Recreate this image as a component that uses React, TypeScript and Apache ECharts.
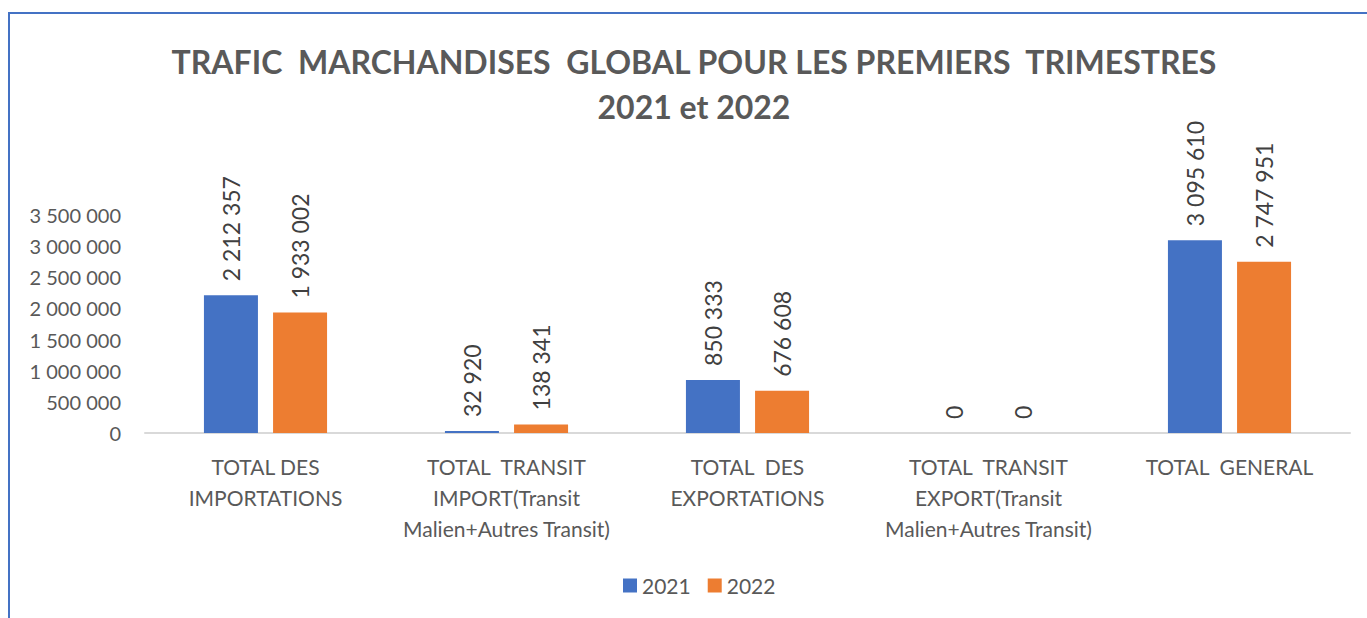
import React, { useEffect, useRef } from "react";
import * as echarts from "echarts";

const categories = [
  "TOTAL DES\nIMPORTATIONS",
  "TOTAL  TRANSIT\nIMPORT(Transit\nMalien+Autres Transit)",
  "TOTAL  DES\nEXPORTATIONS",
  "TOTAL  TRANSIT\nEXPORT(Transit\nMalien+Autres Transit)",
  "TOTAL  GENERAL",
];
const values2021 = [2212357, 32920, 850333, 0, 3095610];
const values2022 = [1933002, 138341, 676608, 0, 2747951];
const seriesNames = ["2021", "2022"];
const titleLines = [
  "TRAFIC  MARCHANDISES  GLOBAL POUR LES PREMIERS  TRIMESTRES",
  "2021 et 2022",
];

const FONT = "Lato, 'Open Sans', sans-serif";
const GRAY = "#595959";

function fmt(v: number): string {
  return String(Math.round(v)).replace(/\B(?=(\d{3})+(?!\d))/g, " ");
}

export default function App() {
  const ref = useRef<HTMLDivElement>(null);
  useEffect(() => {
    if (!ref.current) return;
    const chart = echarts.init(ref.current, null, { renderer: "svg" });
    const labelCfg = {
      show: true,
      position: "top",
      rotate: 90,
      align: "left",
      verticalAlign: "middle",
      distance: 14,
      color: "#404040",
      fontSize: 23,
      fontFamily: FONT,
      formatter: (p: any) => fmt(p.value),
    };
    chart.setOption({
      animation: false,
      backgroundColor: "#ffffff",
      textStyle: { fontFamily: FONT },
      graphic: [
        {
          type: "rect",
          shape: { x: 9, y: 13, width: 1500, height: 800 },
          style: { fill: "none", stroke: "#4472C4", lineWidth: 2 },
          silent: true,
        },
        {
          type: "text",
          x: 694,
          y: 61,
          style: {
            text: titleLines[0],
            fontSize: 32,
            fontWeight: "bold",
            fontFamily: FONT,
            fill: GRAY,
            textAlign: "center",
            textVerticalAlign: "middle",
          },
        },
        {
          type: "text",
          x: 694,
          y: 106,
          style: {
            text: titleLines[1],
            fontSize: 32,
            fontWeight: "bold",
            fontFamily: FONT,
            fill: GRAY,
            textAlign: "center",
            textVerticalAlign: "middle",
          },
        },
      ],
      legend: {
        data: seriesNames,
        left: 618,
        top: 570,
        itemWidth: 14,
        itemHeight: 14,
        itemGap: 17,
        icon: "rect",
        textStyle: { color: GRAY, fontSize: 21, fontFamily: FONT },
      },
      grid: { left: 145, right: 17, top: 215, bottom: 185, containLabel: false },
      xAxis: {
        type: "category",
        data: categories,
        axisLine: { lineStyle: { color: "#D9D9D9", width: 2 } },
        axisTick: { show: false },
        axisLabel: {
          interval: 0,
          margin: 18,
          color: GRAY,
          fontSize: 21,
          lineHeight: 31,
          fontFamily: FONT,
        },
      },
      yAxis: {
        type: "value",
        min: 0,
        max: 3500000,
        interval: 500000,
        splitLine: { show: false },
        axisLine: { show: false },
        axisTick: { show: false },
        axisLabel: {
          color: GRAY,
          fontSize: 20,
          fontFamily: FONT,
          margin: 24,
          formatter: (v: number) => fmt(v),
        },
      },
      series: [
        {
          name: seriesNames[0],
          type: "bar",
          data: values2021,
          barWidth: 54,
          barGap: "28%",
          itemStyle: { color: "#4472C4" },
          label: labelCfg,
        },
        {
          name: seriesNames[1],
          type: "bar",
          data: values2022,
          barWidth: 54,
          itemStyle: { color: "#ED7D31" },
          label: labelCfg,
        },
      ],
    });
    return () => chart.dispose();
  }, []);
  return (
    <div
      ref={ref}
      style={{ position: "absolute", left: 0, top: 0, width: 1367, height: 618 }}
    />
  );
}
